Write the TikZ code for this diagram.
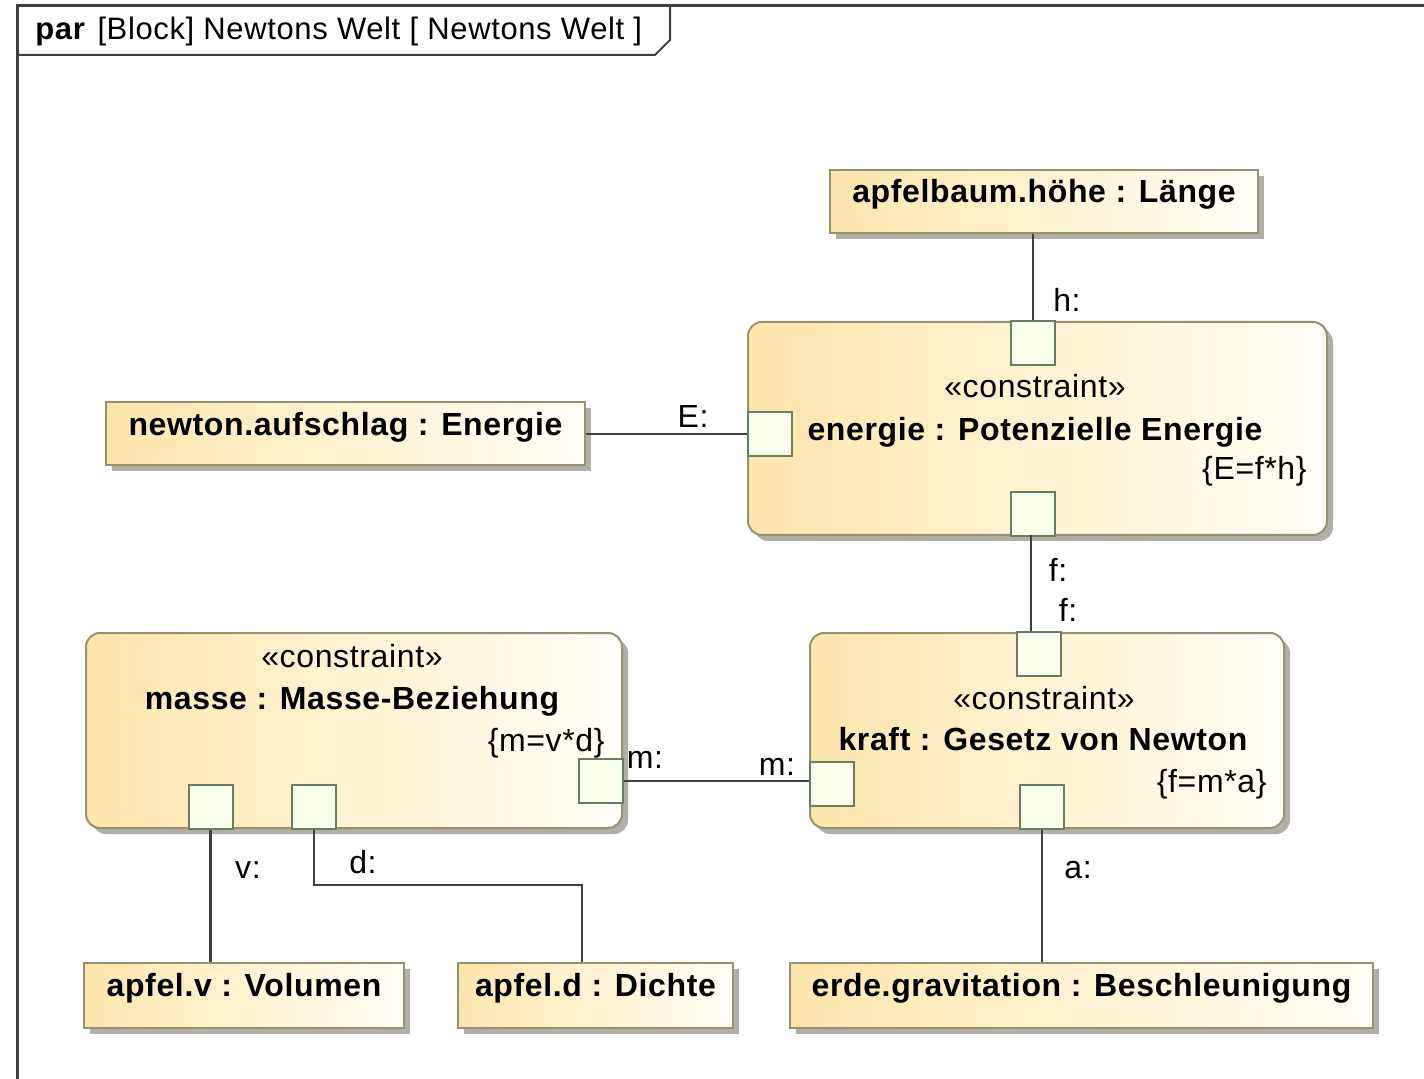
\documentclass[tikz,border=0pt]{standalone}
\usepackage{fontspec}
\setmainfont{Liberation Sans}[LetterSpace=2]
\usetikzlibrary{shadows}
\definecolor{boxline}{RGB}{150,145,110}
\definecolor{boxyellow}{RGB}{253,230,172}
\definecolor{boxwhite}{RGB}{255,254,246}
\definecolor{shadowgray}{RGB}{178,175,166}
\definecolor{portline}{RGB}{105,125,95}
\definecolor{portfill}{RGB}{249,255,236}
\definecolor{linegray}{RGB}{64,64,64}
\begin{document}
\begin{tikzpicture}[x=0.5pt,y=-0.5pt]
	\tikzset{every node/.style={font=\fontsize{16}{19}\selectfont},
	  valbox/.style={draw=boxline, line width=1pt, left color=boxyellow, right color=boxwhite,
	    general shadow={fill=shadowgray, shadow xshift=3pt, shadow yshift=-3pt},
	    inner sep=0pt, text height=16.5pt, text depth=15pt, minimum height=31.5pt,
	    font=\fontsize{16}{19}\selectfont\bfseries},
	  conbox/.style={draw=boxline, line width=1pt, rounded corners=7pt, left color=boxyellow, right color=boxwhite,
	    general shadow={fill=shadowgray, shadow xshift=3pt, shadow yshift=-3pt}, inner sep=0pt},
	  portbox/.style={draw=portline, line width=1pt, fill=portfill, minimum size=22pt, inner sep=0pt},
	  wire/.style={draw=linegray, line width=1.2pt},
	  bold/.style={font=\fontsize{16}{19}\selectfont\bfseries}
	}
	\useasboundingbox (0,0) rectangle (1424,1079);
	% frame
	\draw[linegray, line width=1.5pt] (1424,6) -- (17,6) -- (17,1079);
	\draw[linegray, line width=1pt] (17,55) -- (655,55) -- (670,40) -- (670,6);
	\node (title) at (35,40) [anchor=base west, inner sep=0pt, font=\fontsize{15.5}{18}\selectfont] {\textbf{par}\hspace{6pt}[Block] Newtons Welt [ Newtons Welt ]};
	% constraint blocks
	\node (energie) at (1037.5,428.5) [conbox, minimum width=289.5pt, minimum height=106.5pt] {};
	\node (masse) at (354,730.5) [conbox, minimum width=268pt, minimum height=97.5pt] {};
	\node (kraft) at (1047,730.5) [conbox, minimum width=237pt, minimum height=97.5pt] {};
	\node (estereo) at (1035,398) [anchor=base] {«constraint»};
	\node (ename) at (1035,441) [anchor=base, bold] {energie : Potenzielle Energie};
	\node (eformel) at (1307,480) [anchor=base east, inner sep=0pt] {\{E=f*h\}};
	\node (mstereo) at (352,668) [anchor=base] {«constraint»};
	\node (mname) at (352,709) [anchor=base, bold] {masse : Masse-Beziehung};
	\node (mformel) at (605,751) [anchor=base east, inner sep=0pt] {\{m=v*d\}};
	\node (kstereo) at (1044,709) [anchor=base] {«constraint»};
	\node (kname) at (1043,750) [anchor=base, bold] {kraft : Gesetz von Newton};
	\node (kformel) at (1267,792) [anchor=base east, inner sep=0pt] {\{f=m*a\}};
	% ports
	\node (eh) at (1033,343) [portbox] {};
	\node (eE) at (770,434) [portbox] {};
	\node (ef) at (1033,514.5) [portbox] {};
	\node (mv) at (210.5,807) [portbox] {};
	\node (md) at (314,807) [portbox] {};
	\node (mm) at (601,781) [portbox] {};
	\node (kf) at (1039,654) [portbox] {};
	\node (km) at (832,784) [portbox] {};
	\node (ka) at (1042,807) [portbox] {};
	% value properties
	\node (hoehe) at (1044,201.5) [valbox, minimum width=214pt] {apfelbaum.höhe : Länge};
	\node (aufschlag) at (345.5,434) [valbox, minimum width=239.5pt] {newton.aufschlag : Energie};
	\node (volumen) at (244,995.5) [valbox, minimum width=160pt, text depth=16pt, minimum height=32.5pt] {apfel.v : Volumen};
	\node (dichte) at (595.5,995.5) [valbox, minimum width=137.5pt, text depth=16pt, minimum height=32.5pt] {apfel.d : Dichte};
	\node (gravitation) at (1081.5,995.5) [valbox, minimum width=291.5pt, text depth=16pt, minimum height=32.5pt] {erde.gravitation : Beschleunigung};
	% connectors
	\coordinate (dknick) at (582,885);
	\draw[wire] (eh.north) -- (eh.north |- hoehe.south);
	\draw[wire] (aufschlag.east) -- (eE.west);
	\draw[wire] (1031,535) coordinate (fstart) -- (fstart |- kf.north);
	\draw[wire] (mm.east) -- (mm.east -| km.west);
	\draw[wire] (mv.south) -- (mv.south |- volumen.north);
	\draw[wire] (md.south) |- (dknick) -- (dknick |- dichte.north);
	\draw[wire] (ka.south) -- (ka.south |- gravitation.north);
	% connector labels
	\node (lh) at (1067,300) {h:};
	\node (lE) at (693,416) {E:};
	\node (lf1) at (1058,570) {f:};
	\node (lf2) at (1068,610) {f:};
	\node (lm1) at (645,760) {m:};
	\node (lm2) at (777,767) {m:};
	\node (lv) at (248,870) {v:};
	\node (ld) at (363,862) {d:};
	\node (la) at (1078,870) {a:};
\end{tikzpicture}
\end{document}
